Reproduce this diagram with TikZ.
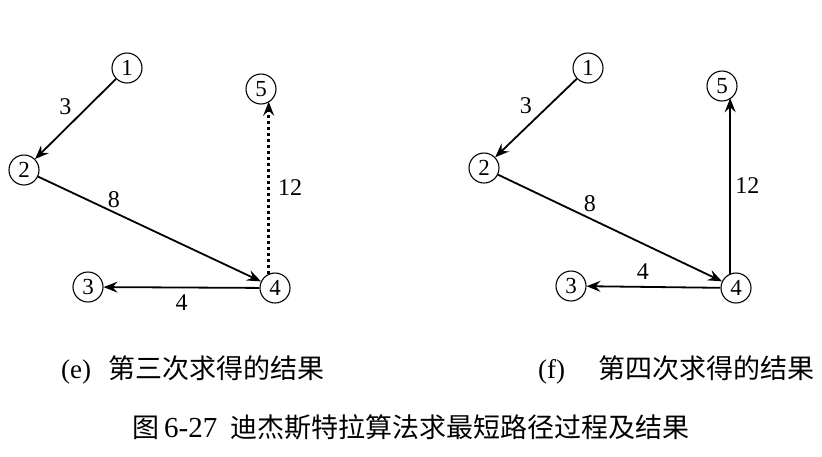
\documentclass[tikz,border=0pt]{standalone}
\usepackage{fontspec}
\setmainfont{Liberation Serif}
\newfontfamily\cjk{Noto Sans CJK SC}
\usetikzlibrary{arrows.meta}

\begin{document}
\begin{tikzpicture}[x=1pt,y=-1pt,
  vtx/.style={draw,circle,line width=1.1pt,minimum size=30pt,inner sep=0pt,
    font=\fontsize{23}{26}\selectfont},
  arr/.style={-{Stealth[length=14pt,width=11pt,inset=5pt]},line width=1.8pt},
  dots/.style={line width=2.4pt,dash pattern=on 2.4pt off 3.6pt},
  lbl/.style={font=\fontsize{24}{28}\selectfont},
  captxt/.style={anchor=west,inner sep=0pt,font=\fontsize{27}{30}\selectfont}]
\useasboundingbox (0,0) rectangle (822,456);
% (e) third step
\node[vtx] (e1) at (127,68) {1};
\node[vtx] (e2) at (24,170) {2};
\node[vtx] (e3) at (88,287) {3};
\node[vtx] (e4) at (275,288) {4};
\node[vtx] (e5) at (261,89) {5};
\path[arr] (e1) edge node[lbl,above left] {3} (e2)
           (e2) edge node[lbl,above,pos=0.34] {8} (e4)
           (e4) edge node[lbl,below=3pt] {4} (e3);
\path[arr] (e4.114) edge[dots] node[lbl,right=5pt] {12} (e4.114 |- e5.-55);
% (f) fourth step
\node[vtx] (f1) at (588,68) {1};
\node[vtx] (f2) at (484,168) {2};
\node[vtx] (f3) at (571,286) {3};
\node[vtx] (f4) at (736,288) {4};
\node[vtx] (f5) at (722,86) {5};
\path[arr] (f1) edge node[lbl,above left] {3} (f2)
           (f2) edge node[lbl,above=2pt,pos=0.41] {8} (f4)
           (f4) edge node[lbl,above=3pt,pos=0.58] {4} (f3);
\path[arr] (f4.112) edge node[lbl,right=1pt] {12} (f4.112 |- f5.-52);
% captions
\node[captxt] (ce) at (61,370) {(e)\hspace{17pt}{\cjk 第三次求得的结果}};
\node[captxt] (cf) at (538,370) {(f)\hspace{33pt}{\cjk 第四次求得的结果}};
\node[captxt] (cg) at (132,427) {{\cjk 图}\hspace{5pt}{\fontsize{29}{30}\selectfont 6-27}\hspace{13pt}{\cjk 迪杰斯特拉算法求最短路径过程及结果}};
\end{tikzpicture}
\end{document}
